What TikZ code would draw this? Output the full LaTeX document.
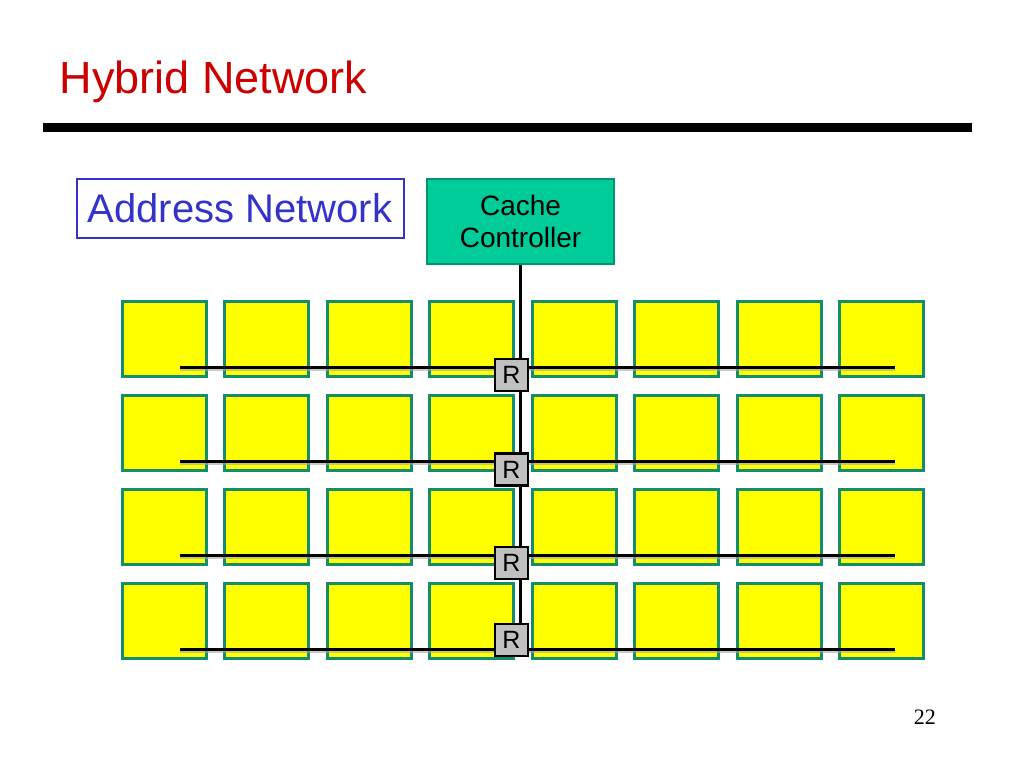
\documentclass[tikz,border=0pt]{standalone}
\usepackage{fontspec}
\setmainfont{Liberation Sans}
\newfontfamily\numfont{Liberation Serif}
\definecolor{titlered}{RGB}{204,0,0}
\definecolor{addrblue}{RGB}{51,51,204}
\definecolor{ccfill}{RGB}{0,204,153}
\definecolor{ccborder}{RGB}{0,150,115}
\definecolor{tileborder}{RGB}{20,140,110}
\definecolor{tilefill}{RGB}{255,255,0}
\definecolor{rfill}{RGB}{192,192,192}
\pgfdeclarelayer{tilelayer}
\pgfdeclarelayer{buslayer}
\pgfsetlayers{tilelayer,buslayer,main}
\tikzset{
  tile/.style={draw=tileborder, fill=tilefill, line width=3pt, minimum width=84pt, minimum height=75pt, inner sep=0pt, anchor=north west},
  router/.style={draw=black, fill=rfill, line width=2.5pt, minimum width=33pt, minimum height=32pt, inner sep=0pt, font=\fontsize{25}{25}\selectfont},
  bus/.style={line width=3pt, black},
  busshadow/.style={line width=3pt, black!35, opacity=0.6},
}
\begin{document}
\begin{tikzpicture}[x=1pt,y=-1pt]
\useasboundingbox (0,0) rectangle (1024,768);
\begin{pgfonlayer}{tilelayer}
\fill[white] (0,0) rectangle (1024,768);
\end{pgfonlayer}
% title and rule
\node[anchor=base west, inner sep=0pt, text=titlered, font=\fontsize{45}{45}\selectfont] (title) at (59.5,93) {Hybrid Network};
\draw[line width=9pt] (43,127.5) -- (972,127.5);
% address network label
\node[draw=addrblue, line width=2pt, text=addrblue, minimum width=327pt, minimum height=59pt, inner sep=0pt, font=\fontsize{40}{40}\selectfont] (addr) at (240,208) {Address Network};
% cache controller
\node[draw=ccborder, fill=ccfill, line width=2.5pt, minimum width=187pt, minimum height=85pt, inner sep=0pt, align=center, font=\fontsize{28}{32}\selectfont] (cc) at (520.5,221.5) {Cache\\Controller};
% tiles
\begin{pgfonlayer}{tilelayer}
\foreach \r in {0,...,3}{
  \foreach \c in {0,...,7}{
    \node[tile] (t-\r-\c) at ({120.5+102.5*\c},{300+94*\r}) {};
  }
}
\end{pgfonlayer}
% routers
\node[router] (r1) at (511.5,375) {R};
\node[router] (r2) at (511.5,469.5) {R};
\node[router] (r3) at (511.5,563) {R};
\node[router] (r4) at (511.5,640) {R};
% buses
\foreach \i/\y in {1/367,2/461,3/555,4/649}{
  \coordinate (L\i) at (180,\y);
  \coordinate (E\i) at (895,\y);
}
\coordinate (vb) at (cc.south |- r4);
\begin{pgfonlayer}{buslayer}
\foreach \i in {1,...,4}{
  \draw[busshadow] ([yshift=-2pt]L\i) -- ([yshift=-2pt]E\i);
  \draw[bus] (L\i) -- (E\i);
}
\draw[bus] (cc.south) -- (vb);
\end{pgfonlayer}
% page number
\node[anchor=base east, inner sep=0pt, font=\numfont\fontsize{22}{22}\selectfont] (pnum) at (936,724) {22};
\end{tikzpicture}
\end{document}
